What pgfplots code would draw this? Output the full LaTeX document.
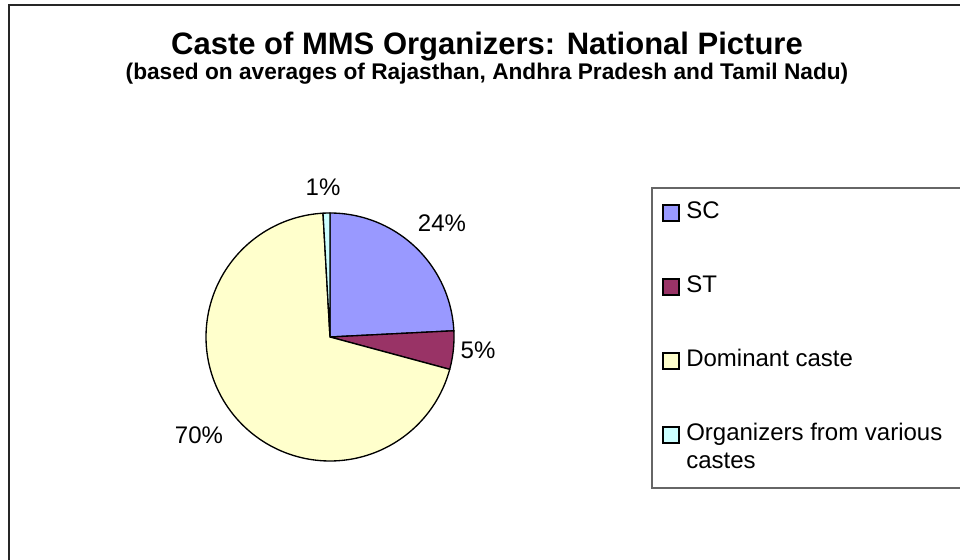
\documentclass[border=0pt]{standalone}
\usepackage{pgfplots}
\pgfplotsset{compat=1.18}
\usepackage{pgfplotstable}
\usepackage{fontspec}
\setmainfont{Liberation Sans}
\definecolor{scblue}{HTML}{9999FF}
\definecolor{stplum}{HTML}{993366}
\definecolor{domyellow}{HTML}{FFFFCC}
\definecolor{varcyan}{HTML}{CCFFFF}
\pgfplotstableread{
category value
SC 24.2
ST 5.0
Dominant 69.9
Various 0.9
}\piedata
\begin{document}
\begin{tikzpicture}[x=0.75pt,y=0.75pt]
\useasboundingbox (0,0) rectangle (960,560);
\clip (0,0) rectangle (960,560);
\fill[white] (0,0) rectangle (960,560);
% outer chart frame (right and bottom edges lie outside the picture)
\draw[black!85, line width=1.5pt] (9,-30) -- (9,555) -- (1000,555);
% values and angles (clockwise from 12 o'clock)
\pgfplotstablegetelem{0}{value}\of\piedata \pgfmathsetmacro\vA{\pgfplotsretval}
\pgfplotstablegetelem{1}{value}\of\piedata \pgfmathsetmacro\vB{\pgfplotsretval}
\pgfplotstablegetelem{2}{value}\of\piedata \pgfmathsetmacro\vC{\pgfplotsretval}
\pgfplotstablegetelem{3}{value}\of\piedata \pgfmathsetmacro\vD{\pgfplotsretval}
\pgfmathsetmacro\aA{90}
\pgfmathsetmacro\aB{\aA-3.6*\vA}
\pgfmathsetmacro\aC{\aB-3.6*\vB}
\pgfmathsetmacro\aD{\aC-3.6*\vC}
\pgfmathsetmacro\aE{\aD-3.6*\vD}
\begin{axis}[
  at={(247.5pt,167.25pt)}, anchor=center,
  scale only axis, width=186pt, height=186pt,
  xmin=-1, xmax=1, ymin=-1, ymax=1,
  hide axis, clip=false,
]
\addplot[fill=scblue, draw=black, line width=1pt, no markers, domain=\aB:\aA, samples=60, variable=\t] ({cos(\t)},{sin(\t)}) -- (axis cs:0,0) -- cycle;
\addplot[fill=stplum, draw=black, line width=1pt, no markers, domain=\aC:\aB, samples=20, variable=\t] ({cos(\t)},{sin(\t)}) -- (axis cs:0,0) -- cycle;
\addplot[fill=domyellow, draw=black, line width=1pt, no markers, domain=\aD:\aC, samples=150, variable=\t] ({cos(\t)},{sin(\t)}) -- (axis cs:0,0) -- cycle;
\addplot[fill=varcyan, draw=black, line width=1pt, no markers, domain=\aE:\aD, samples=5, variable=\t] ({cos(\t)},{sin(\t)}) -- (axis cs:0,0) -- cycle;
\end{axis}
% data labels
\begin{scope}[every node/.style={font=\fontsize{18}{21}\selectfont, inner sep=0pt}]
\node at (442,337) {24\%};
\node at (478,210) {5\%};
\node at (199,125) {70\%};
\node at (323,373) {1\%};
\end{scope}
% titles
\node[anchor=base, inner sep=0pt, font=\bfseries\fontsize{23.25}{28}\selectfont] at (487,505) {Caste of MMS Organizers: National Picture};
\node[anchor=base, inner sep=0pt, font=\bfseries\fontsize{17}{20}\selectfont] at (487,480) {(based on averages of Rajasthan, Andhra Pradesh and Tamil Nadu)};
% legend
\draw[black!60, line width=1.1pt] (1000,72) -- (652,72) -- (652,372) -- (1000,372);
\begin{scope}[every node/.style={font=\fontsize{18}{21}\selectfont, inner sep=0pt, anchor=base west, align=left}]
\filldraw[fill=scblue, draw=black, line width=0.8pt] (663,339) rectangle (679,355);
\node at (686,341) {SC};
\filldraw[fill=stplum, draw=black, line width=0.8pt] (663,265) rectangle (679,281);
\node at (686,267) {ST};
\filldraw[fill=domyellow, draw=black, line width=0.8pt] (663,191) rectangle (679,207);
\node at (686,193) {Dominant caste};
\filldraw[fill=varcyan, draw=black, line width=0.8pt] (663,117) rectangle (679,133);
\node at (686,119) {Organizers from various};
\node at (686,91) {castes};
\end{scope}
\end{tikzpicture}
\end{document}
